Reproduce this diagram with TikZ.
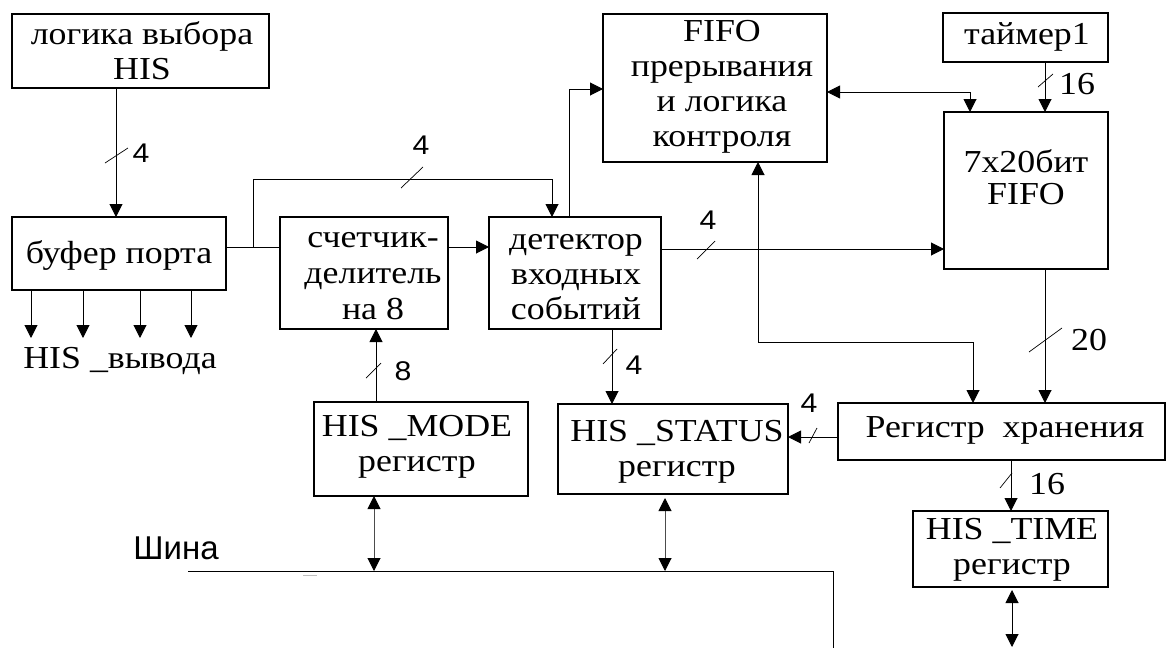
\documentclass[tikz,border=0pt]{standalone}
\usepackage{fontspec}
\setmainfont{Liberation Serif}[FakeStretch=1.12]
\newfontfamily\digitsans{Liberation Sans}[FakeStretch=1.12]
\newfontfamily\busfont{Liberation Sans}
\usetikzlibrary{arrows.meta}

\tikzset{
  box/.style={draw, rectangle, line width=1.1pt, inner sep=0pt, outer sep=0pt},
  txt/.style={inner sep=0pt, align=center, font=\fontsize{32}{35}\selectfont},
  lab/.style={inner sep=0pt, font=\digitsans\fontsize{27}{27}\selectfont},
  nlab/.style={inner sep=0pt, font=\fontsize{32}{32}\selectfont},
  wire/.style={line width=1pt},
  arr/.style={wire, -{Triangle[length=13pt,width=13pt]}},
  dbl/.style={wire, {Triangle[length=13pt,width=13pt,color=black]}-{Triangle[length=13pt,width=13pt,color=black]}},
  tick/.style={line width=0.7pt},
}

\begin{document}
\begin{tikzpicture}[x=1pt,y=-1pt]
\fill[white] (0,0) rectangle (1168,648);
\useasboundingbox (0,0) rectangle (1168,648);

% ---- blocks ----
\node[box, minimum width=257, minimum height=74]  (logic) at (140.5,51)  {};
\node[box, minimum width=214, minimum height=73]  (buf)   at (119,253.5) {};
\node[box, minimum width=168, minimum height=112] (cnt)   at (364,273)   {};
\node[box, minimum width=172, minimum height=112] (det)   at (575,273)   {};
\node[box, minimum width=224, minimum height=148] (fctl)  at (715,88)    {};
\node[box, minimum width=165, minimum height=49]  (tmr)   at (1025.5,37.5) {};
\node[box, minimum width=164, minimum height=157] (fifo)  at (1026,190.5) {};
\node[box, minimum width=327, minimum height=57]  (reg)   at (1001.5,431.5) {};
\node[box, minimum width=214, minimum height=94]  (mode)  at (421,449)   {};
\node[box, minimum width=230, minimum height=90]  (stat)  at (673,449)   {};
\node[box, minimum width=195, minimum height=76]  (time)  at (1010.5,549) {};

% ---- block texts ----
\node[txt] (logicT) at (142,51)   {логика выбора\\HIS};
\node[txt] (bufT)   at (119,255)  {буфер порта};
\node[txt, font=\fontsize{32}{36}\selectfont] (cntT) at (373,276) {счетчик-\\делитель\\на 8};
\node[txt] (detT)   at (576,277)  {детектор\\входных\\событий};
\node[txt] (fctlT)  at (722,87)   {FIFO\\прерывания\\и логика\\контроля};
\node[txt] (tmrT)   at (1027,37)  {таймер1};
\node[txt, font=\fontsize{32}{32}\selectfont] (fifoT) at (1026,177) {7x20бит\\FIFO};
\node[txt] (regT)   at (1005,430) {Регистр\ \ хранения};
\node[txt] (modeT)  at (417,447)  {HIS \_MODE\\регистр};
\node[txt] (statT)  at (677,452)  {HIS \_STATUS\\регистр};
\node[txt] (timeT)  at (1012,550) {HIS \_TIME\\регистр};
\node[txt] (outT)   at (120,361)  {HIS \_вывода};
\node[inner sep=0pt, font=\busfont\fontsize{33}{33}\selectfont] (busT) at (176,548) {Шина};

% ---- lane coordinates ----
\coordinate (xA) at (116,0);
\coordinate (o1) at (31,338);
\coordinate (o2) at (83,338);
\coordinate (o3) at (140,338);
\coordinate (o4) at (191,338);
\coordinate (yB) at (0,247);
\coordinate (br) at (253,247);
\coordinate (brTop) at (253,179);
\coordinate (xD) at (552,0);
\coordinate (fctlIn) at (569,89);
\coordinate (yF) at (0,249);
\coordinate (bend1) at (758,342);
\coordinate (bend2) at (973,342);
\coordinate (bend3) at (970,92);
\coordinate (xI) at (1045,0);
\coordinate (yJ) at (0,437);
\coordinate (xK) at (612,0);
\coordinate (xL) at (376,0);
\coordinate (xM) at (1011,0);
\coordinate (tEnd) at (1012,647);
\coordinate (busL) at (188,571);
\coordinate (busR) at (833,571);
\coordinate (busEnd) at (833,648);
\coordinate (m1) at (374,0);
\coordinate (s1) at (665,0);

% ---- connectors ----
\draw[arr] (logic.south -| xA) -- (buf.north -| xA);
\foreach \o in {o1,o2,o3,o4} \draw[arr] (buf.south -| \o) -- (\o);
\draw[wire] (buf.east |- yB) -- (cnt.west |- yB);
\draw[arr] (br) -- (brTop) -- (brTop -| xD) -- (det.north -| xD);
\draw[arr] (cnt.east |- yB) -- (det.west |- yB);
\draw[arr] (det.north -| fctlIn) -- (fctlIn) -- (fctl.west |- fctlIn);
\draw[arr] (det.east |- yF) -- (fifo.west |- yF);
\draw[dbl] (fctl.south -| bend1) -- (bend1) -- (bend2) -- (reg.north -| bend2);
\draw[dbl] (fctl.east |- bend3) -- (bend3) -- (fifo.north -| bend3);
\draw[arr] (tmr.south -| xI) -- (fifo.north -| xI);
\draw[arr] (fifo.south -| xI) -- (reg.north -| xI);
\draw[arr] (reg.west |- yJ) -- (stat.east |- yJ);
\draw[arr] (det.south -| xK) -- (stat.north -| xK);
\draw[arr] (mode.north -| xL) -- (cnt.south -| xL);
\draw[arr] (reg.south -| xM) -- (time.north -| xM);
\draw[dbl, shorten <=3pt] (time.south -| tEnd) -- (tEnd);
\draw[dbl, gray!60!black] (mode.south -| m1) -- (busL -| m1);
\draw[dbl, gray!60!black, shorten <=4pt] (stat.south -| s1) -- (busL -| s1);

% ---- bus ----
\draw[wire] (busL) -- (busR) -- (busEnd);
\draw[gray!50, line width=1.4pt] (303,575.5) -- (317,575.5);

% ---- bus-width ticks ----
\coordinate (tk1) at (116.5,155.5);
\coordinate (tk2) at (412,177.5);
\coordinate (tk3) at (706,250);
\coordinate (tk4) at (1045.5,80.5);
\coordinate (tk5) at (1045.5,340);
\coordinate (tk6) at (813,435.5);
\coordinate (tk7) at (610,356.5);
\coordinate (tk8) at (373.5,370.5);
\coordinate (tk9) at (1006,480.5);
\draw[tick] (tk1) +(-11.5,7.5) -- +(11.5,-7.5);
\draw[tick] (tk2) +(-11,10.5) -- +(11,-10.5);
\draw[tick] (tk3) +(-9,9) -- +(9,-9);
\draw[tick] (tk4) +(-7.5,6.5) -- +(7.5,-6.5);
\draw[tick] (tk5) +(-16.5,12) -- +(16.5,-12);
\draw[tick] (tk6) +(-4,7.5) -- +(4,-7.5);
\draw[tick] (tk7) +(-7,7.5) -- +(7,-7.5);
\draw[tick] (tk8) +(-7.5,7.5) -- +(7.5,-7.5);
\draw[tick] (tk9) +(-6,7.5) -- +(6,-7.5);

% ---- width labels ----
\node[lab]  (n1) at (141,153) {4};
\node[lab]  (n2) at (421,145) {4};
\node[lab]  (n3) at (708,220) {4};
\node[lab]  (n4) at (634,365) {4};
\node[lab]  (n5) at (809,403) {4};
\node[lab]  (n6) at (403,371) {8};
\node[nlab] (n7) at (1077,84)  {16};
\node[nlab] (n8) at (1089,340) {20};
\node[nlab] (n9) at (1047,484) {16};
\end{tikzpicture}
\end{document}
